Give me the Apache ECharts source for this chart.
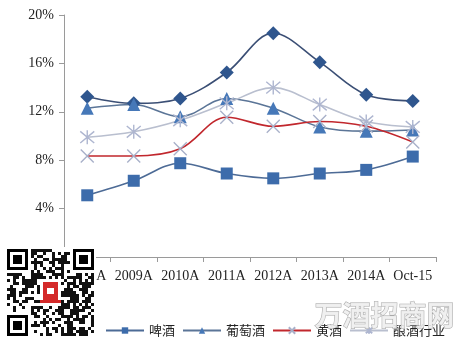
<!DOCTYPE html>
<html><head><meta charset="utf-8">
<script src="https://cdn.jsdelivr.net/npm/echarts@6/dist/echarts.min.js"></script>
<style>html,body{margin:0;padding:0;background:#fff}#c{width:464px;height:344px}</style>
</head><body><div id="c"></div>
<script>
var categories = ['2008A','2009A','2010A','2011A','2012A','2013A','2014A','Oct-15'];
var baijiu   = [13.25, 12.7, 13.1, 15.25, 18.5, 16.1, 13.4, 12.9];
var pijiu    = [5.1, 6.3, 7.75, 6.9, 6.5, 6.9, 7.2, 8.3];
var putaojiu = [12.3, 12.6, 11.6, 13.1, 12.3, 10.75, 10.4, 10.5];
var huangjiu = [8.35, 8.35, 8.95, 11.55, 10.8, 11.2, 10.8, 9.5];
var hangye   = [9.9, 10.35, 11.3, 12.7, 14.0, 12.6, 11.2, 10.75];
var yTicks = [0, 4, 8, 12, 16, 20];

var X_PATH = 'path://M0,0L20,20M20,0L0,20';
var AST_PATH = 'path://M0,0L20,20M20,0L0,20M10,-2L10,22';

// decorative QR-like block
var qr = [];
(function(){
  var N = 29, s = 3, x0 = 7, y0 = 249;
  qr.push({type:'rect', shape:{x:x0-2,y:y0-2,width:N*s+4,height:N*s+4}, style:{fill:'#fff'}, z:100});
  function finder(cx, cy){
    qr.push({type:'rect', shape:{x:x0+cx*s,y:y0+cy*s,width:7*s,height:7*s}, style:{fill:'#000'}, z:101});
    qr.push({type:'rect', shape:{x:x0+(cx+1)*s,y:y0+(cy+1)*s,width:5*s,height:5*s}, style:{fill:'#fff'}, z:102});
    qr.push({type:'rect', shape:{x:x0+(cx+2)*s,y:y0+(cy+2)*s,width:3*s,height:3*s}, style:{fill:'#000'}, z:103});
  }
  function inFinder(i,j){
    return (i<8&&j<8)||(i>=N-8&&j<8)||(i<8&&j>=N-8);
  }
  for (var i=0;i<N;i++) for (var j=0;j<N;j++){
    if (inFinder(i,j)) continue;
    if (i>=11&&i<=17&&j>=10&&j<=18) continue;
    var h = ((i*73856093) ^ (j*19349663) ^ (i*j*83492791)) >>> 0;
    if ((h % 100) < 55) qr.push({type:'rect', shape:{x:x0+i*s,y:y0+j*s,width:s,height:s}, style:{fill:'#111'}, z:101});
  }
  finder(0,0); finder(N-7,0); finder(0,N-7);
  // red logo
  qr.push({type:'rect', shape:{x:x0+12*s,y:y0+11*s,width:5*s,height:7*s}, style:{fill:'#d42a2a'}, z:104});
  qr.push({type:'rect', shape:{x:x0+11*s,y:y0+17*s,width:7*s,height:s}, style:{fill:'#d42a2a'}, z:104});
  qr.push({type:'rect', shape:{x:x0+13*s+1,y:y0+13*s,width:3*s-2,height:2*s}, style:{fill:'#fff'}, z:105});
})();

var serif = '"Liberation Serif","DejaVu Serif",serif';
var cjk = '"Noto Sans CJK SC","Noto Sans CJK JP",sans-serif';

var chart = echarts.init(document.getElementById('c'), null, {renderer:'canvas'});
function mk(name, data, lineColor, sym, symSize, symColor, stroke){
  return {
    name: name, type: 'line', data: data, smooth: 0.35,
    symbol: sym, symbolSize: symSize, showAllSymbol: true,
    lineStyle: {color: lineColor, width: 1.6},
    itemStyle: stroke ? {color: 'rgba(0,0,0,0)', borderColor: symColor, borderWidth: 1.4}
                      : {color: symColor, borderColor: symColor, borderWidth: 0},
    emphasis: {disabled: true}, animation: false
  };
}
chart.setOption({
  backgroundColor: '#fff',
  animation: false,
  grid: {left: 64, right: 28, top: 15, bottom: 87, containLabel: false},
  legend: {
    left: 100, top: 319, itemWidth: 38, itemHeight: 8, itemGap: 7,
    data: ['啤酒','葡萄酒','黄酒','酿酒行业'],
    textStyle: {fontFamily: cjk, fontSize: 13, color: '#222'},
    selectedMode: false
  },
  xAxis: {
    type: 'category', data: categories, boundaryGap: true,
    axisLine: {lineStyle: {color: '#9a9a9a', width: 1}},
    axisTick: {show: true, alignWithLabel: false, length: 5, lineStyle: {color: '#9a9a9a'}},
    axisLabel: {fontFamily: serif, fontSize: 14, color: '#222', margin: 12, interval: 0}
  },
  yAxis: {
    type: 'value', min: yTicks[0], max: yTicks[yTicks.length-1], interval: 4,
    axisLine: {show: true, lineStyle: {color: '#9a9a9a', width: 1}},
    axisTick: {show: true, length: 5, lineStyle: {color: '#9a9a9a'}},
    splitLine: {show: false},
    axisLabel: {fontFamily: serif, fontSize: 14, color: '#222', margin: 10,
      formatter: function(v){ return v + '%'; }}
  },
  series: [
    mk('白酒', baijiu, '#3b4f75', 'diamond', 14, '#2f568e'),
    mk('啤酒', pijiu, '#4d6b96', 'rect', 12, '#3d6cab'),
    mk('葡萄酒', putaojiu, '#5b7597', 'triangle', 13, '#4678b8'),
    mk('黄酒', huangjiu, '#c1272d', X_PATH, 13, '#a8b0c9', true),
    mk('酿酒行业', hangye, '#b9bfcf', AST_PATH, 14, '#aeb6d0', true)
  ],
  graphic: qr.concat([
    {type:'text', left: 314, top: 301, z: 110,
     style:{text:'万酒招商网', font:'bold 28px "Noto Sans CJK SC",sans-serif', fill:'rgba(238,238,238,0.9)', stroke:'#a8a8a8', lineWidth:1}}
  ])
});
</script></body></html>
